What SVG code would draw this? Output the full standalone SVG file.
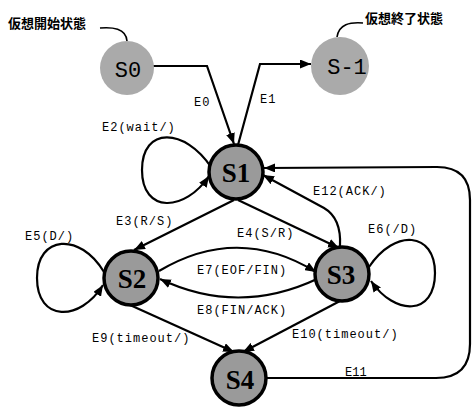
<svg xmlns="http://www.w3.org/2000/svg" width="472" height="407" viewBox="0 0 472 407">
  <style>
    .bg { fill: #ffffff; }
    .virt circle { fill: #aaaaaa; stroke: none; }
    .state circle { fill: #9a9a9a; stroke: #000; stroke-width: 3.5; }
    .virt text { font-family: "Liberation Mono", monospace; font-size: 22px; fill: #000; text-anchor: middle; }
    .state text { font-family: "Liberation Serif", serif; font-size: 27px; font-weight: bold; fill: #000; text-anchor: middle; }
    .edge { fill: none; stroke: #000; stroke-width: 2.2; }
    .arrow { marker-end: url(#head); }
    .leader { fill: none; stroke: #000; stroke-width: 1.6; }
    .lbl { font-family: "Liberation Mono", monospace; font-size: 12px; letter-spacing: 1px; fill: #000; }
    .note { font-family: "Noto Sans CJK JP", "Noto Sans CJK SC", sans-serif; font-size: 13px; font-weight: bold; fill: #000; }
  </style>
  <defs>
    <marker id="head" markerUnits="userSpaceOnUse" markerWidth="11" markerHeight="9" refX="11" refY="4.5" orient="auto">
      <path d="M0,0 L11,4.5 L0,9 z" fill="#000"/>
    </marker>
  </defs>

  <rect class="bg" x="0" y="0" width="472" height="407"/>

  <!-- connectors -->
  <g id="connectors">
    <!-- E0: S0 -> S1 -->
    <path class="edge arrow" d="M153,66 L207,66 L234,144"/>
    <!-- E1: S1 -> S-1 -->
    <path class="edge arrow" d="M238,145 L260,64 L311,64"/>
    <!-- E2: self loop on S1 -->
    <path class="edge arrow" d="M211,167 C185,128 142,126 142,170 C142,214 185,212 209,176"/>
    <!-- E3: S1 -> S2 -->
    <path class="edge arrow" d="M234,200 L134,250"/>
    <!-- E4: S1 -> S3 -->
    <path class="edge arrow" d="M238,200 L339,248"/>
    <!-- E5: self loop on S2 -->
    <path class="edge arrow" d="M104,272 C80,232 37,235 37,278 C37,322 80,322 103,285"/>
    <!-- E6: self loop on S3 -->
    <path class="edge arrow" d="M369,267 C395,228 435,232 435,273 C435,316 395,316 371,281"/>
    <!-- E7: S2 -> S3 -->
    <path class="edge arrow" d="M159,271 Q238,224 316,272"/>
    <!-- E8: S3 -> S2 -->
    <path class="edge arrow" d="M317,279 Q238,316 160,279"/>
    <!-- E9: S2 -> S4 -->
    <path class="edge arrow" d="M130,305 L234,352"/>
    <!-- E10: S3 -> S4 -->
    <path class="edge arrow" d="M340,301 L243,352"/>
    <!-- E11: S4 -> S1 around the right side -->
    <path class="edge arrow" d="M266,378 L436,378 Q470,378 470,344 L470,200 Q470,167 437,167 L264,168"/>
    <!-- E12: S3 -> S1 -->
    <path class="edge arrow" d="M340,246 C341,228 336,215 324,208 L263,175"/>
    <!-- leaders for the virtual-state notes -->
    <path class="leader" d="M100,28 C112,27 126,28 127,41"/>
    <path class="leader" d="M363,23 C350,22 339,24 337,37"/>
  </g>

  <!-- edge labels -->
  <g id="labels">
    <text class="lbl" x="194" y="106">E0</text>
    <text class="lbl" x="260" y="103">E1</text>
    <text class="lbl" x="102" y="131">E2(wait/)</text>
    <text class="lbl" x="116" y="225">E3(R/S)</text>
    <text class="lbl" x="237" y="237">E4(S/R)</text>
    <text class="lbl" x="25" y="240">E5(D/)</text>
    <text class="lbl" x="368" y="233">E6(/D)</text>
    <text class="lbl" x="197" y="274">E7(EOF/FIN)</text>
    <text class="lbl" x="197" y="314">E8(FIN/ACK)</text>
    <text class="lbl" x="92" y="342">E9(timeout/)</text>
    <text class="lbl" x="292" y="338">E10(timeout/)</text>
    <text class="lbl" x="345" y="376" style="letter-spacing:0">E11</text>
    <text class="lbl" x="313" y="195">E12(ACK/)</text>
  </g>

  <!-- notes -->
  <text class="note" x="8" y="28">仮想開始状態</text>
  <text class="note" x="365" y="23">仮想終了状態</text>

  <!-- nodes -->
  <g id="S0" class="virt">
    <circle cx="127" cy="68" r="27"/>
    <text x="128" y="77">S0</text>
  </g>
  <g id="S-1" class="virt">
    <circle cx="340" cy="66" r="29"/>
    <text x="347" y="74">S-1</text>
  </g>
  <g id="S1" class="state">
    <circle cx="236" cy="172" r="27"/>
    <text x="236" y="182">S1</text>
  </g>
  <g id="S2" class="state">
    <circle cx="131" cy="278" r="27"/>
    <text x="132" y="288">S2</text>
  </g>
  <g id="S3" class="state">
    <circle cx="342" cy="274" r="27"/>
    <text x="341" y="284">S3</text>
  </g>
  <g id="S4" class="state">
    <circle cx="239" cy="378" r="27"/>
    <text x="240" y="389">S4</text>
  </g>
</svg>
